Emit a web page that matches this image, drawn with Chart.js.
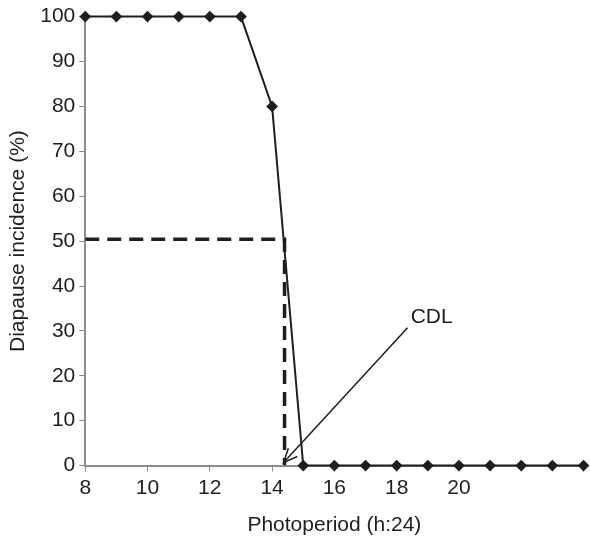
<!DOCTYPE html>
<html lang="en">
<head>
    <meta charset="UTF-8">
    <title>Diapause incidence vs photoperiod</title>
    <script src="https://cdn.jsdelivr.net/npm/chart.js"></script>
    <style>
        html, body { margin: 0; padding: 0; background: #fff; overflow: hidden; }
        canvas { display: block; }
    </style>
</head>
<body>
    <canvas id="diapauseChart" width="590" height="539"></canvas>

    <script>
        // photoperiod (hours of light) and diapause incidence (%)
        const photoperiod = [8, 9, 10, 11, 12, 13, 14, 15, 16, 17, 18, 19, 20, 21, 22, 23, 24];
        const incidence = [100, 100, 100, 100, 100, 100, 80, 0, 0, 0, 0, 0, 0, 0, 0, 0, 0];

        // dashed guide to the critical day length
        const cdlX = [8, 14.4, 14.4];
        const cdlY = [50.4, 50.4, 0];

        // arrow from the CDL label to the axis
        const arrowX = [18.35, 14.37];
        const arrowY = [30.7, 0.7];
        const cdlLabel = 'CDL';
        const cdlLabelPos = [18.45, 33];

        const xTickLabels = [8, 10, 12, 14, 16, 18, 20];

        const font = { family: '"Liberation Sans", Arial, sans-serif', size: 21 };
        const axisGrey = '#8c8c8c';
        const ink = '#1e1e1e';

        const toPoints = (xs, ys) => xs.map((x, i) => ({ x: x, y: ys[i] }));

        // arrowhead + label, placed through the scales
        const annotate = {
            id: 'annotate',
            afterDatasetsDraw(chart) {
                const ctx = chart.ctx;
                const xs = chart.scales.x, ys = chart.scales.y;
                const x0 = xs.getPixelForValue(arrowX[0]), y0 = ys.getPixelForValue(arrowY[0]);
                const x1 = xs.getPixelForValue(arrowX[1]), y1 = ys.getPixelForValue(arrowY[1]);
                const ang = Math.atan2(y1 - y0, x1 - x0);
                const len = 15, spread = 0.42;
                ctx.save();
                ctx.strokeStyle = ink;
                ctx.lineWidth = 1.5;
                ctx.beginPath();
                ctx.moveTo(x1 - len * Math.cos(ang - spread), y1 - len * Math.sin(ang - spread));
                ctx.lineTo(x1, y1);
                ctx.lineTo(x1 - len * Math.cos(ang + spread), y1 - len * Math.sin(ang + spread));
                ctx.stroke();

                ctx.fillStyle = ink;
                ctx.font = font.size + 'px ' + font.family;
                ctx.textAlign = 'left';
                ctx.textBaseline = 'middle';
                ctx.fillText(cdlLabel, xs.getPixelForValue(cdlLabelPos[0]), ys.getPixelForValue(cdlLabelPos[1]));
                ctx.restore();
            }
        };

        const config = {
            type: 'line',
            data: {
                datasets: [
                    {
                        label: 'Diapause incidence',
                        data: toPoints(photoperiod, incidence),
                        borderColor: ink,
                        backgroundColor: ink,
                        borderWidth: 2,
                        pointStyle: 'rectRot',
                        pointRadius: 4.5,
                        pointHoverRadius: 4.5,
                        tension: 0,
                        clip: false
                    },
                    {
                        label: 'CDL guide',
                        data: toPoints(cdlX, cdlY),
                        borderColor: ink,
                        borderWidth: 3.5,
                        borderDash: [14, 8],
                        pointRadius: 0,
                        tension: 0
                    },
                    {
                        label: 'CDL arrow',
                        data: toPoints(arrowX, arrowY),
                        borderColor: ink,
                        borderWidth: 1.5,
                        pointRadius: 0,
                        tension: 0
                    }
                ]
            },
            options: {
                responsive: false,
                animation: false,
                layout: { padding: { top: 4, right: 3, left: 6, bottom: 1 } },
                plugins: {
                    legend: { display: false },
                    tooltip: { enabled: false }
                },
                scales: {
                    x: {
                        type: 'linear',
                        min: 8,
                        max: 24,
                        border: { display: true, color: axisGrey, width: 2 },
                        grid: { display: true, drawOnChartArea: false, color: axisGrey, tickLength: 6 },
                        ticks: {
                            stepSize: 2,
                            color: ink,
                            font: font,
                            padding: 4,
                            maxRotation: 0,
                            callback: v => xTickLabels.includes(v) ? String(v) : ''
                        },
                        title: {
                            display: true,
                            text: 'Photoperiod (h:24)',
                            color: ink,
                            font: font,
                            padding: { top: 8, bottom: 0 }
                        }
                    },
                    y: {
                        min: 0,
                        max: 100,
                        border: { display: true, color: axisGrey, width: 2 },
                        grid: { display: true, drawOnChartArea: false, color: axisGrey, tickLength: 6 },
                        ticks: {
                            stepSize: 10,
                            color: ink,
                            font: font,
                            padding: 4
                        },
                        title: {
                            display: true,
                            text: 'Diapause incidence (%)',
                            color: ink,
                            font: font,
                            padding: { top: 0, bottom: 5 }
                        }
                    }
                }
            },
            plugins: [annotate]
        };

        new Chart(document.getElementById('diapauseChart'), config);
    </script>
</body>
</html>
